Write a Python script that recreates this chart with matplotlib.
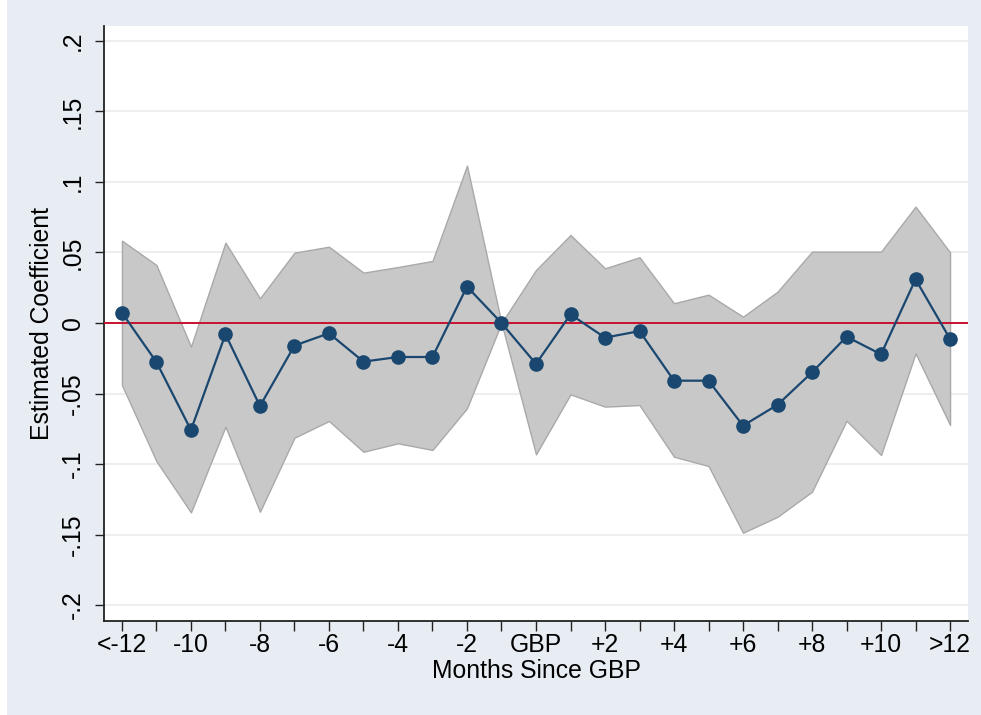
import matplotlib
matplotlib.use("Agg")
import matplotlib.pyplot as plt
from matplotlib.patches import Rectangle

plt.rcParams['font.family'] = ['Liberation Sans', 'DejaVu Sans']

# Data
months = list(range(-12, 13))
coef = [0.0073, -0.0277, -0.0759, -0.008, -0.0589, -0.016, -0.0073, -0.0274, -0.0241, -0.0241,
        0.0258, 0.0, -0.029, 0.0061, -0.0104, -0.0057, -0.0409, -0.0409, -0.0728, -0.058,
        -0.035, -0.0097, -0.0222, 0.031, -0.0113]
upper = [0.0584, 0.0411, -0.0168, 0.057, 0.0175, 0.0499, 0.0541, 0.0357, 0.0397, 0.044,
         0.1116, 0.0, 0.0376, 0.0624, 0.0388, 0.0466, 0.014, 0.0201, 0.0045, 0.0222,
         0.0506, 0.0506, 0.0506, 0.0825, 0.0501]
lower = [-0.044, -0.098, -0.1343, -0.0735, -0.1338, -0.0813, -0.0695, -0.0913, -0.0853, -0.090,
         -0.0605, 0.0, -0.0931, -0.0506, -0.0593, -0.0582, -0.0948, -0.1014, -0.1487, -0.1374,
         -0.1196, -0.0693, -0.0936, -0.0215, -0.0723]
xtick_pos = [-12, -10, -8, -6, -4, -2, 0, 2, 4, 6, 8, 10, 12]
xtick_labels = ['<-12', '-10', '-8', '-6', '-4', '-2', 'GBP', '+2', '+4', '+6', '+8', '+10', '>12']
ytick_pos = [-0.2, -0.15, -0.1, -0.05, 0, 0.05, 0.1, 0.15, 0.2]
ytick_labels = ['-.2', '-.15', '-.1', '-.05', '0', '.05', '.1', '.15', '.2']

W, H = 981, 715
FS = 17.8
fig = plt.figure(figsize=(W / 100, H / 100), dpi=100)
fig.patch.set_facecolor('#e8edf4')
fig.patches.append(Rectangle((0, 0), 7 / W, 1, transform=fig.transFigure,
                             facecolor='white', edgecolor='none', zorder=0))

left, right, top, bottom = 104, 968, 26, 621
ax = fig.add_axes([left / W, 1 - bottom / H, (right - left) / W, (bottom - top) / H])
ax.set_facecolor('white')

ax.fill_between(months, lower, upper, facecolor='#c8c8c8', edgecolor='#a9a9a9',
                linewidth=1.0, zorder=2)
ax.axhline(0, color='#c8102e', linewidth=1.4, zorder=3)
ax.plot(months, coef, color='#1a476f', linewidth=1.6, marker='o', markersize=9.5,
        markerfacecolor='#1a476f', markeredgecolor='#1a476f', zorder=4)

ax.set_xlim(-12.52, 12.52)
ax.set_ylim(-0.2113, 0.2106)

ax.set_yticks(ytick_pos)
ax.set_yticklabels(ytick_labels, rotation=90, va='center', fontsize=FS)
ax.set_xticks(months, minor=True)
ax.set_xticks(xtick_pos)
ax.set_xticklabels(xtick_labels, fontsize=FS)

ax.tick_params(axis='y', which='major', length=6.5, width=1.0, pad=7, color='#222222')
ax.tick_params(axis='x', which='both', length=7, width=1.0, pad=2, color='#222222')

for y in ytick_pos:
    if y != 0:
        ax.axhline(y, color='#eeeeee', linewidth=1.5, zorder=1)

for s in ['top', 'right']:
    ax.spines[s].set_visible(False)
for s in ['left', 'bottom']:
    ax.spines[s].set_color('#222222')
    ax.spines[s].set_linewidth(1.3)

ax.set_xlabel('Months Since GBP', fontsize=FS, labelpad=1)
ax.set_ylabel('Estimated Coefficient', fontsize=FS, labelpad=5)

fig.savefig('out.png', dpi=100, facecolor=fig.get_facecolor())
